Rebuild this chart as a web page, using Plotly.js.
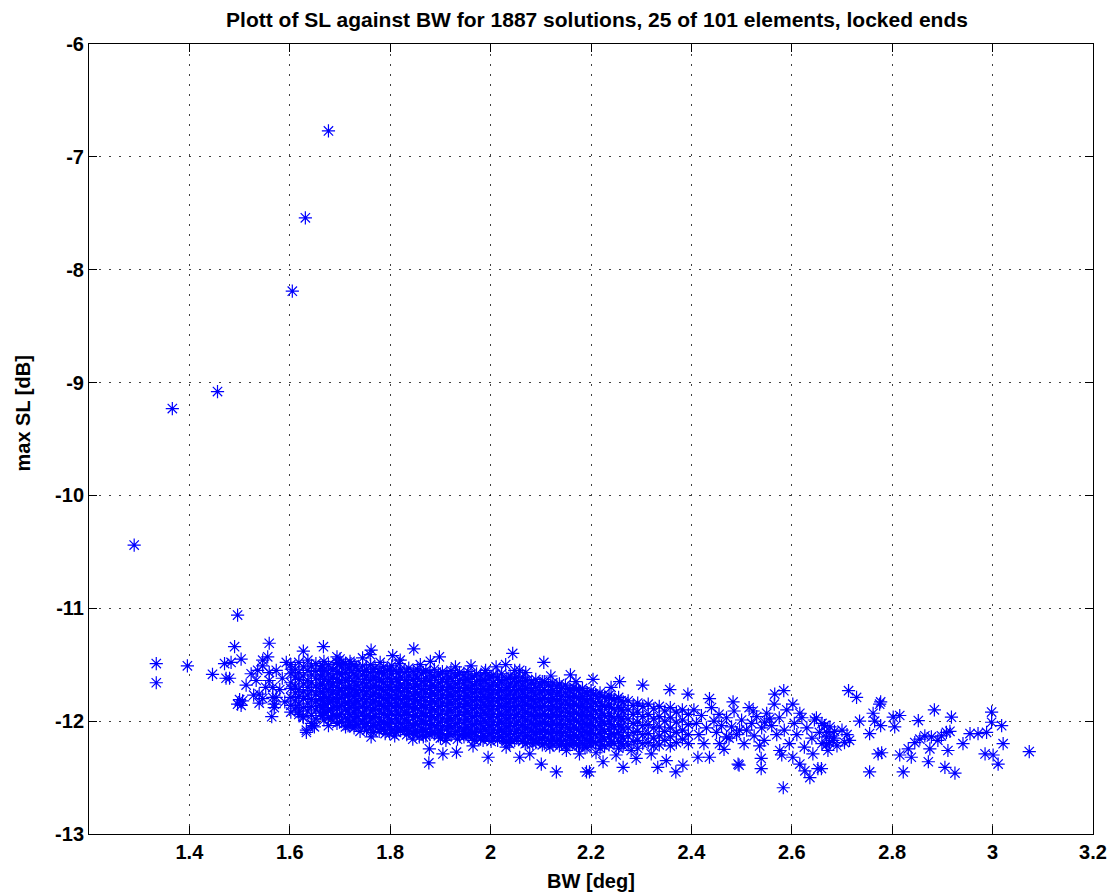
<!DOCTYPE html>
<html>
<head>
<meta charset="utf-8">
<script src="https://cdn.plot.ly/plotly-3.0.1.min.js"></script>
<style>
  html, body { margin: 0; padding: 0; background: #fff; }
  #chart { width: 1111px; height: 896px; }
</style>
</head>
<body>
<div id="chart"></div>
<script>
// Isolated solutions far above the main cluster [BW deg, max SL dB]
const outliers = [
  [1.290, -10.44], [1.366, -9.23], [1.456, -9.08], [1.605, -8.19],
  [1.631, -7.54], [1.677, -6.77], [1.496, -11.06], [1.334, -11.49],
  [1.334, -11.66], [1.396, -11.51], [1.446, -11.585]
];

// Sparse solutions at the narrow-beam end of the cluster
const leftEdge = [
  [1.490, -11.34], [1.559, -11.31], [1.627, -11.38], [1.667, -11.34], [1.470, -11.49],
  [1.483, -11.48], [1.503, -11.45], [1.480, -11.62], [1.513, -11.68], [1.523, -11.58],
  [1.536, -11.55], [1.546, -11.51], [1.496, -11.85], [1.506, -11.82], [1.539, -11.84],
  [1.564, -11.96], [1.569, -11.85], [1.566, -11.79], [1.566, -11.70], [1.559, -11.64],
  [1.559, -11.57], [1.573, -11.55], [1.593, -11.48], [1.603, -11.54], [1.546, -11.46],
  [1.556, -11.43], [1.533, -11.64], [1.500, -11.81], [1.503, -11.86], [1.473, -11.62],
  [1.539, -11.76], [1.546, -11.80], [1.573, -11.79], [1.569, -11.88], [1.619, -11.91],
  [1.626, -11.96], [1.633, -12.08], [1.646, -12.04], [1.649, -12.05], [1.633, -12.10],
  [1.672, -11.92], [1.585, -11.62], [1.580, -11.72], [1.590, -11.83], [1.552, -11.70],
  [1.528, -11.77]
];

// Dense core: BW column and the SL values found in it
const coreCols = [
  [1.602, [-11.50,-11.58,-11.66,-11.71,-11.79,-11.86,-11.92]],
  [1.611, [-11.54,-11.61,-11.69,-11.75,-11.82,-11.89]],
  [1.618, [-11.48,-11.57,-11.63,-11.72,-11.78,-11.85,-11.94]],
  [1.627, [-11.52,-11.60,-11.67,-11.74,-11.80,-11.88,-11.97]],
  [1.636, [-11.46,-11.55,-11.64,-11.70,-11.77,-11.84,-11.91]],
  [1.643, [-11.51,-11.59,-11.66,-11.73,-11.81,-11.87,-11.95,-12.02]],
  [1.652, [-11.49,-11.56,-11.62,-11.69,-11.76,-11.83,-11.90,-11.98]],
  [1.661, [-11.53,-11.60,-11.68,-11.74,-11.80,-11.86,-11.93]],
  [1.668, [-11.47,-11.55,-11.63,-11.71,-11.78,-11.85,-11.92,-11.99]],
  [1.677, [-11.50,-11.58,-11.65,-11.72,-11.79,-11.84,-11.91,-11.97,-12.04]],
  [1.686, [-11.54,-11.61,-11.67,-11.74,-11.81,-11.88,-11.95]],
  [1.694, [-11.48,-11.56,-11.63,-11.70,-11.76,-11.83,-11.89,-11.96,-12.02]],
  [1.703, [-11.52,-11.59,-11.66,-11.73,-11.79,-11.86,-11.93,-12.00]],
  [1.711, [-11.49,-11.57,-11.64,-11.71,-11.77,-11.84,-11.90,-11.97,-12.05]],
  [1.719, [-11.53,-11.61,-11.68,-11.75,-11.82,-11.88,-11.94,-12.01]],
  [1.728, [-11.50,-11.58,-11.65,-11.72,-11.78,-11.85,-11.92,-11.99,-12.06]],
  [1.736, [-11.55,-11.62,-11.69,-11.76,-11.83,-11.89,-11.96,-12.03]],
  [1.745, [-11.51,-11.59,-11.66,-11.73,-11.80,-11.87,-11.93,-12.00]],
  [1.753, [-11.54,-11.60,-11.67,-11.74,-11.81,-11.88,-11.95,-12.02,-12.08]],
  [1.761, [-11.50,-11.57,-11.64,-11.71,-11.78,-11.85,-11.91,-11.98,-12.05]],
  [1.770, [-11.53,-11.61,-11.68,-11.75,-11.82,-11.89,-11.96,-12.04]],
  [1.778, [-11.56,-11.63,-11.70,-11.77,-11.84,-11.90,-11.97,-12.03,-12.09]],
  [1.787, [-11.52,-11.59,-11.66,-11.73,-11.80,-11.87,-11.94,-12.01,-12.07]],
  [1.795, [-11.55,-11.62,-11.69,-11.76,-11.82,-11.89,-11.95,-12.02]],
  [1.803, [-11.51,-11.58,-11.65,-11.72,-11.79,-11.86,-11.93,-12.00,-12.08]],
  [1.812, [-11.56,-11.63,-11.70,-11.77,-11.84,-11.91,-11.98,-12.05,-12.10]],
  [1.820, [-11.54,-11.61,-11.68,-11.74,-11.81,-11.88,-11.95,-12.02,-12.08]],
  [1.829, [-11.57,-11.64,-11.71,-11.78,-11.85,-11.92,-11.99,-12.06]],
  [1.837, [-11.53,-11.60,-11.67,-11.74,-11.80,-11.87,-11.94,-12.01,-12.09]],
  [1.846, [-11.56,-11.63,-11.70,-11.77,-11.84,-11.90,-11.97,-12.04,-12.11]],
  [1.854, [-11.54,-11.62,-11.69,-11.76,-11.82,-11.89,-11.96,-12.03,-12.10]],
  [1.862, [-11.58,-11.65,-11.72,-11.79,-11.86,-11.93,-12.00,-12.07]],
  [1.871, [-11.55,-11.62,-11.68,-11.75,-11.82,-11.88,-11.95,-12.02,-12.09,-12.13]],
  [1.879, [-11.57,-11.64,-11.71,-11.78,-11.85,-11.92,-11.99,-12.06,-12.12]],
  [1.888, [-11.54,-11.61,-11.69,-11.76,-11.83,-11.90,-11.97,-12.04,-12.10]],
  [1.896, [-11.59,-11.66,-11.73,-11.80,-11.87,-11.94,-12.01,-12.08,-12.13]],
  [1.904, [-11.56,-11.63,-11.70,-11.77,-11.84,-11.91,-11.98,-12.05,-12.11]],
  [1.913, [-11.58,-11.65,-11.72,-11.79,-11.86,-11.93,-12.00,-12.07,-12.14]],
  [1.921, [-11.55,-11.62,-11.70,-11.77,-11.84,-11.91,-11.98,-12.05,-12.12]],
  [1.930, [-11.60,-11.67,-11.74,-11.81,-11.88,-11.95,-12.02,-12.09]],
  [1.938, [-11.57,-11.64,-11.71,-11.78,-11.85,-11.92,-11.99,-12.06,-12.13]],
  [1.947, [-11.59,-11.66,-11.73,-11.80,-11.87,-11.94,-12.01,-12.08,-12.14]],
  [1.955, [-11.56,-11.63,-11.71,-11.78,-11.85,-11.92,-11.99,-12.06,-12.12]],
  [1.963, [-11.61,-11.68,-11.75,-11.82,-11.89,-11.96,-12.03,-12.10,-12.15]],
  [1.972, [-11.58,-11.65,-11.72,-11.79,-11.86,-11.93,-12.00,-12.07,-12.13]],
  [1.980, [-11.60,-11.67,-11.74,-11.81,-11.88,-11.95,-12.02,-12.09,-12.16]],
  [1.989, [-11.57,-11.64,-11.72,-11.79,-11.86,-11.93,-12.00,-12.07,-12.14]],
  [1.997, [-11.62,-11.69,-11.76,-11.83,-11.90,-11.97,-12.04,-12.11]],
  [2.005, [-11.59,-11.66,-11.73,-11.80,-11.87,-11.94,-12.01,-12.08,-12.15]],
  [2.014, [-11.61,-11.68,-11.75,-11.82,-11.89,-11.96,-12.03,-12.10,-12.17]],
  [2.022, [-11.58,-11.66,-11.73,-11.80,-11.87,-11.94,-12.01,-12.08,-12.14]],
  [2.031, [-11.63,-11.70,-11.77,-11.84,-11.91,-11.98,-12.05,-12.12,-12.18]],
  [2.039, [-11.60,-11.67,-11.74,-11.81,-11.88,-11.95,-12.02,-12.09,-12.16]],
  [2.048, [-11.62,-11.69,-11.76,-11.83,-11.90,-11.97,-12.04,-12.11,-12.17]],
  [2.056, [-11.65,-11.72,-11.79,-11.86,-11.93,-12.00,-12.07,-12.14]],
  [2.064, [-11.61,-11.68,-11.75,-11.82,-11.89,-11.96,-12.03,-12.10,-12.18]],
  [2.073, [-11.64,-11.71,-11.78,-11.85,-11.92,-11.99,-12.06,-12.13,-12.19]],
  [2.081, [-11.66,-11.73,-11.80,-11.87,-11.94,-12.01,-12.08,-12.15]],
  [2.090, [-11.63,-11.70,-11.77,-11.84,-11.91,-11.98,-12.05,-12.12,-12.19]],
  [2.098, [-11.67,-11.74,-11.81,-11.88,-11.95,-12.02,-12.09,-12.16]],
  [2.107, [-11.65,-11.72,-11.79,-11.86,-11.93,-12.00,-12.07,-12.14,-12.20]],
  [2.115, [-11.68,-11.75,-11.82,-11.89,-11.96,-12.03,-12.10,-12.17]],
  [2.124, [-11.66,-11.73,-11.80,-11.87,-11.94,-12.01,-12.08,-12.15,-12.21]],
  [2.132, [-11.69,-11.76,-11.83,-11.90,-11.97,-12.04,-12.11,-12.18]],
  [2.141, [-11.71,-11.78,-11.85,-11.92,-11.99,-12.06,-12.13,-12.20]],
  [2.149, [-11.68,-11.75,-11.82,-11.89,-11.96,-12.03,-12.10,-12.17,-12.22]],
  [2.158, [-11.72,-11.79,-11.86,-11.93,-12.00,-12.07,-12.14,-12.21]],
  [2.166, [-11.70,-11.77,-11.84,-11.91,-11.98,-12.05,-12.12,-12.19]],
  [2.175, [-11.73,-11.80,-11.87,-11.94,-12.01,-12.08,-12.15,-12.22]],
  [2.183, [-11.71,-11.78,-11.85,-11.92,-11.99,-12.06,-12.13,-12.20]],
  [2.192, [-11.75,-11.82,-11.89,-11.96,-12.03,-12.10,-12.17,-12.23]],
  [2.200, [-11.73,-11.80,-11.87,-11.94,-12.01,-12.08,-12.15,-12.21]],
  [2.209, [-11.77,-11.84,-11.91,-11.98,-12.05,-12.12,-12.19]],
  [2.218, [-11.75,-11.83,-11.90,-11.97,-12.04,-12.11,-12.18,-12.24]],
  [2.227, [-11.79,-11.87,-11.95,-12.02,-12.09,-12.16,-12.22]],
  [2.236, [-11.77,-11.85,-11.93,-12.00,-12.07,-12.14,-12.21]],
  [2.246, [-11.81,-11.89,-11.97,-12.05,-12.12,-12.20]],
  [2.255, [-11.79,-11.88,-11.96,-12.03,-12.10,-12.18,-12.24]],
  [2.264, [-11.83,-11.91,-11.99,-12.07,-12.15,-12.22]],
  [2.274, [-11.82,-11.90,-11.98,-12.06,-12.13,-12.21]],
  [2.284, [-11.86,-11.94,-12.02,-12.10,-12.18]],
  [2.293, [-11.84,-11.92,-12.01,-12.09,-12.17,-12.24]],
  [2.303, [-11.87,-11.96,-12.04,-12.12,-12.20]],
  [2.314, [-11.85,-11.94,-12.03,-12.11,-12.19]],
  [2.325, [-11.89,-11.98,-12.06,-12.15,-12.22]],
  [2.336, [-11.87,-11.96,-12.05,-12.13,-12.21]],
  [2.347, [-11.91,-12.00,-12.09,-12.17]],
  [2.358, [-11.88,-11.97,-12.06,-12.14,-12.22]],
  [2.370, [-11.92,-12.01,-12.10,-12.19]],
  [2.382, [-11.90,-11.99,-12.08,-12.16]],
  [2.394, [-11.94,-12.03,-12.12,-12.20]]
];

// Further solutions packed into the densest part of the core
const coreColsB = [
  [1.665, [-11.51,-11.59,-11.67,-11.74,-11.82,-11.88,-11.95]],
  [1.682, [-11.53,-11.62,-11.69,-11.76,-11.83,-11.90,-11.98]],
  [1.699, [-11.50,-11.58,-11.66,-11.73,-11.80,-11.87,-11.94,-12.01]],
  [1.716, [-11.54,-11.62,-11.70,-11.77,-11.84,-11.91,-11.98,-12.04]],
  [1.732, [-11.52,-11.60,-11.68,-11.75,-11.82,-11.89,-11.96,-12.03]],
  [1.749, [-11.56,-11.63,-11.70,-11.77,-11.84,-11.91,-11.98,-12.05]],
  [1.766, [-11.54,-11.61,-11.69,-11.76,-11.83,-11.90,-11.97,-12.04,-12.10]],
  [1.783, [-11.57,-11.65,-11.72,-11.79,-11.86,-11.93,-12.00,-12.06]],
  [1.799, [-11.54,-11.62,-11.70,-11.77,-11.84,-11.91,-11.98,-12.05,-12.11]],
  [1.816, [-11.58,-11.66,-11.73,-11.80,-11.87,-11.94,-12.01,-12.07]],
  [1.833, [-11.56,-11.64,-11.71,-11.78,-11.85,-11.92,-11.99,-12.06,-12.12]],
  [1.850, [-11.59,-11.67,-11.74,-11.81,-11.88,-11.95,-12.02,-12.08]],
  [1.866, [-11.57,-11.65,-11.72,-11.79,-11.86,-11.93,-12.00,-12.07,-12.14]],
  [1.883, [-11.60,-11.68,-11.75,-11.82,-11.89,-11.96,-12.03,-12.10]],
  [1.900, [-11.58,-11.66,-11.73,-11.80,-11.87,-11.94,-12.01,-12.08,-12.15]],
  [1.917, [-11.61,-11.69,-11.76,-11.83,-11.90,-11.97,-12.04,-12.11]],
  [1.934, [-11.59,-11.67,-11.74,-11.81,-11.88,-11.95,-12.02,-12.09,-12.16]],
  [1.951, [-11.62,-11.70,-11.77,-11.84,-11.91,-11.98,-12.05,-12.12]],
  [1.968, [-11.60,-11.68,-11.75,-11.82,-11.89,-11.96,-12.03,-12.10,-12.17]],
  [1.985, [-11.63,-11.71,-11.78,-11.85,-11.92,-11.99,-12.06,-12.13]],
  [2.001, [-11.61,-11.69,-11.76,-11.83,-11.90,-11.97,-12.04,-12.11,-12.18]],
  [2.018, [-11.64,-11.72,-11.79,-11.86,-11.93,-12.00,-12.07,-12.14]],
  [2.035, [-11.62,-11.70,-11.77,-11.84,-11.91,-11.98,-12.05,-12.12,-12.19]],
  [2.052, [-11.66,-11.73,-11.80,-11.87,-11.94,-12.01,-12.08,-12.15]],
  [2.069, [-11.64,-11.71,-11.78,-11.85,-11.92,-11.99,-12.06,-12.13,-12.20]],
  [2.086, [-11.67,-11.75,-11.82,-11.89,-11.96,-12.03,-12.10,-12.17]],
  [2.103, [-11.65,-11.73,-11.80,-11.87,-11.94,-12.01,-12.08,-12.15,-12.21]],
  [2.120, [-11.69,-11.76,-11.83,-11.90,-11.97,-12.04,-12.11,-12.18]],
  [2.137, [-11.67,-11.74,-11.81,-11.88,-11.95,-12.02,-12.09,-12.16,-12.22]],
  [2.154, [-11.71,-11.78,-11.85,-11.92,-11.99,-12.06,-12.13,-12.20]],
  [2.171, [-11.72,-11.79,-11.86,-11.93,-12.00,-12.07,-12.14,-12.21]],
  [2.188, [-11.74,-11.81,-11.88,-11.95,-12.02,-12.09,-12.16,-12.23]],
  [2.205, [-11.76,-11.83,-11.90,-11.97,-12.04,-12.11,-12.18]],
  [2.222, [-11.78,-11.86,-11.93,-12.00,-12.07,-12.14,-12.21]],
  [2.241, [-11.80,-11.88,-11.96,-12.03,-12.11,-12.18]],
  [2.260, [-11.82,-11.90,-11.98,-12.05,-12.13,-12.20]]
];

// Scattered solutions just above the core
const upperFringe = [
  [1.762, -11.37], [1.805, -11.42], [1.847, -11.36], [1.898, -11.43], [1.961, -11.51],
  [2.011, -11.52], [2.044, -11.40], [2.048, -11.55], [2.051, -11.61], [2.106, -11.48],
  [2.159, -11.59], [2.204, -11.63], [2.257, -11.65], [2.303, -11.68], [2.357, -11.72],
  [2.393, -11.76], [2.436, -11.80], [2.483, -11.83], [2.523, -11.91], [1.700, -11.45],
  [1.720, -11.47], [1.745, -11.44], [1.780, -11.48], [1.820, -11.46], [1.860, -11.50],
  [1.880, -11.47], [1.930, -11.52], [1.990, -11.55], [2.030, -11.50], [2.070, -11.57],
  [2.120, -11.60], [2.170, -11.65], [2.240, -11.70], [1.722, -11.49], [1.699, -11.49],
  [1.818, -11.49], [2.058, -11.55], [1.760, -11.41], [1.694, -11.43]
];

// Scattered solutions just below the core
const lowerFringe = [
  [1.762, -12.14], [1.809, -12.13], [1.845, -12.16], [1.878, -12.245], [1.877, -12.37],
  [1.905, -12.29], [1.932, -12.275], [1.965, -12.22], [1.995, -12.32], [2.058, -12.32],
  [2.078, -12.29], [2.101, -12.38], [2.131, -12.45], [2.191, -12.45], [2.224, -12.36],
  [2.264, -12.41], [2.333, -12.41], [2.369, -12.45], [2.383, -12.39], [2.197, -12.45],
  [2.413, -12.32], [2.436, -12.32], [2.493, -12.38], [2.495, -12.39], [2.539, -12.42],
  [2.539, -12.33], [1.832, -12.08], [1.858, -12.14], [1.911, -12.17], [1.951, -12.11],
  [1.985, -12.17], [2.018, -12.14], [2.031, -12.23], [2.038, -12.20], [2.084, -12.20],
  [2.118, -12.23], [2.151, -12.26], [2.177, -12.29], [2.164, -12.17], [1.720, -12.04],
  [1.740, -12.09], [1.790, -12.11], [2.210, -12.28], [2.250, -12.30], [2.290, -12.33],
  [2.320, -12.29], [2.350, -12.35], [2.280, -12.26]
];

// Wide-beam tail of the cluster
const rightTail = [
  [2.566, -11.76], [2.584, -11.73], [2.602, -11.85], [2.616, -11.93], [2.649, -11.97],
  [2.676, -12.05], [2.546, -12.01], [2.556, -11.98], [2.496, -12.08], [2.510, -12.08],
  [2.470, -12.14], [2.456, -12.20], [2.536, -12.22], [2.576, -12.26], [2.580, -12.30],
  [2.583, -12.59], [2.602, -12.32], [2.616, -12.38], [2.626, -12.44], [2.636, -12.50],
  [2.652, -12.42], [2.642, -12.29], [2.672, -12.26], [2.669, -12.14], [2.682, -12.17],
  [2.405, -11.90], [2.410, -12.02], [2.415, -12.12], [2.420, -11.95], [2.425, -12.20],
  [2.430, -12.06], [2.440, -11.88], [2.445, -12.00], [2.450, -12.10], [2.455, -11.94],
  [2.460, -12.04], [2.465, -12.25], [2.470, -11.97], [2.475, -12.15], [2.480, -12.05],
  [2.485, -11.91], [2.490, -12.12], [2.500, -11.99], [2.505, -12.20], [2.515, -11.88],
  [2.520, -12.02], [2.525, -12.13], [2.530, -11.96], [2.540, -12.06], [2.545, -12.17],
  [2.550, -11.93], [2.560, -12.04], [2.565, -11.85], [2.570, -12.12], [2.575, -11.97],
  [2.585, -12.08], [2.590, -11.90], [2.595, -12.20], [2.605, -12.02], [2.610, -12.12],
  [2.620, -11.97], [2.625, -12.23], [2.630, -12.06], [2.640, -12.15], [2.645, -11.99],
  [2.655, -12.10], [2.660, -12.20], [2.665, -12.04], [2.685, -12.09], [2.690, -12.22],
  [2.660, -12.02], [2.670, -12.10], [2.675, -12.19], [2.700, -12.08], [2.705, -12.19],
  [2.710, -12.12], [2.713, -11.73], [2.729, -11.79], [2.777, -11.83], [2.775, -11.85],
  [2.735, -12.00], [2.762, -11.93], [2.765, -12.00], [2.777, -12.04], [2.755, -12.11],
  [2.715, -12.17], [2.683, -12.15], [2.669, -12.21], [2.772, -12.29], [2.779, -12.28],
  [2.755, -12.45], [2.659, -12.42], [2.802, -11.965], [2.815, -11.95], [2.805, -12.05],
  [2.852, -11.995], [2.884, -11.90], [2.918, -11.965], [2.815, -12.30], [2.822, -12.45],
  [2.832, -12.245], [2.845, -12.19], [2.855, -12.16], [2.865, -12.13], [2.838, -12.32],
  [2.875, -12.245], [2.872, -12.36], [2.878, -12.14], [2.891, -12.17], [2.898, -12.13],
  [2.908, -12.10], [2.915, -12.09], [2.911, -12.26], [2.905, -12.41], [2.925, -12.46],
  [2.941, -12.20], [2.955, -12.11], [2.971, -12.11], [2.988, -12.10], [2.998, -11.92],
  [2.998, -12.01], [3.018, -12.04], [3.021, -12.20], [2.985, -12.29], [3.001, -12.30],
  [3.011, -12.38], [3.073, -12.27]
];

// Axis ticks
const xTickVals = [1.4, 1.6, 1.8, 2.0, 2.2, 2.4, 2.6, 2.8, 3.0, 3.2];
const xTickText = ['1.4', '1.6', '1.8', '2', '2.2', '2.4', '2.6', '2.8', '3', '3.2'];
const yTickVals = [-13, -12, -11, -10, -9, -8, -7, -6];
const yTickText = ['-13', '-12', '-11', '-10', '-9', '-8', '-7', '-6'];

// Gather every solution into one BW / SL pair of lists
const bw = [];
const sl = [];
function addPairs(list) {
  list.forEach(function (p) { bw.push(p[0]); sl.push(p[1]); });
}
function addColumns(cols) {
  cols.forEach(function (col) {
    col[1].forEach(function (v) { bw.push(col[0]); sl.push(v); });
  });
}
addColumns(coreCols);
addColumns(coreColsB);
addPairs(leftEdge);
addPairs(upperFringe);
addPairs(lowerFringe);
addPairs(rightTail);
addPairs(outliers);

const FONT = '"Liberation Sans", Arial, Helvetica, sans-serif';

const trace = {
  type: 'scatter',
  mode: 'markers',
  x: bw,
  y: sl,
  marker: {
    symbol: 'asterisk-open',
    size: 11,
    color: 'rgb(0,0,255)',
    line: { color: 'rgb(0,0,255)', width: 1.2 }
  },
  hoverinfo: 'x+y'
};

const axisCommon = {
  ticks: 'inside',
  ticklen: 8,
  tickwidth: 1,
  tickcolor: '#000',
  showline: true,
  linecolor: '#000',
  linewidth: 1,
  mirror: 'ticks',
  showgrid: true,
  gridcolor: 'rgba(0,0,0,0.75)',
  gridwidth: 1,
  griddash: '2px,8px',
  zeroline: false,
  tickfont: { family: FONT, size: 20, color: '#000', weight: 'bold' }
};

const layout = {
  width: 1111,
  height: 896,
  margin: { l: 89, r: 18, t: 44, b: 62, pad: 0 },
  paper_bgcolor: '#fff',
  plot_bgcolor: '#fff',
  showlegend: false,
  title: {
    text: 'Plott of SL against BW for 1887 solutions, 25 of 101 elements, locked ends',
    font: { family: FONT, size: 21, color: '#000', weight: 'bold' },
    x: 0.506, xref: 'paper', xanchor: 'center',
    y: 1 - 20 / 896, yref: 'container', yanchor: 'middle'
  },
  xaxis: Object.assign({}, axisCommon, {
    range: [1.2, 3.2],
    tickmode: 'array',
    tickvals: xTickVals,
    ticktext: xTickText,
    title: { text: 'BW [deg]', font: { family: FONT, size: 20, color: '#000', weight: 'bold' }, standoff: 11 }
  }),
  yaxis: Object.assign({}, axisCommon, {
    range: [-13, -6],
    tickmode: 'array',
    tickvals: yTickVals,
    ticktext: yTickText
  }),
  // vertical axis label, set a little above the middle of the axis
  annotations: [{
    text: 'max SL [dB]',
    textangle: -90,
    xref: 'paper', x: (22 - 89) / 1004, xanchor: 'center',
    yref: 'paper', y: (833.5 - 413) / 790, yanchor: 'middle',
    showarrow: false,
    font: { family: FONT, size: 20, color: '#000', weight: 'bold' }
  }]
};

Plotly.newPlot('chart', [trace], layout, { displayModeBar: false, staticPlot: true });
</script>
</body>
</html>
